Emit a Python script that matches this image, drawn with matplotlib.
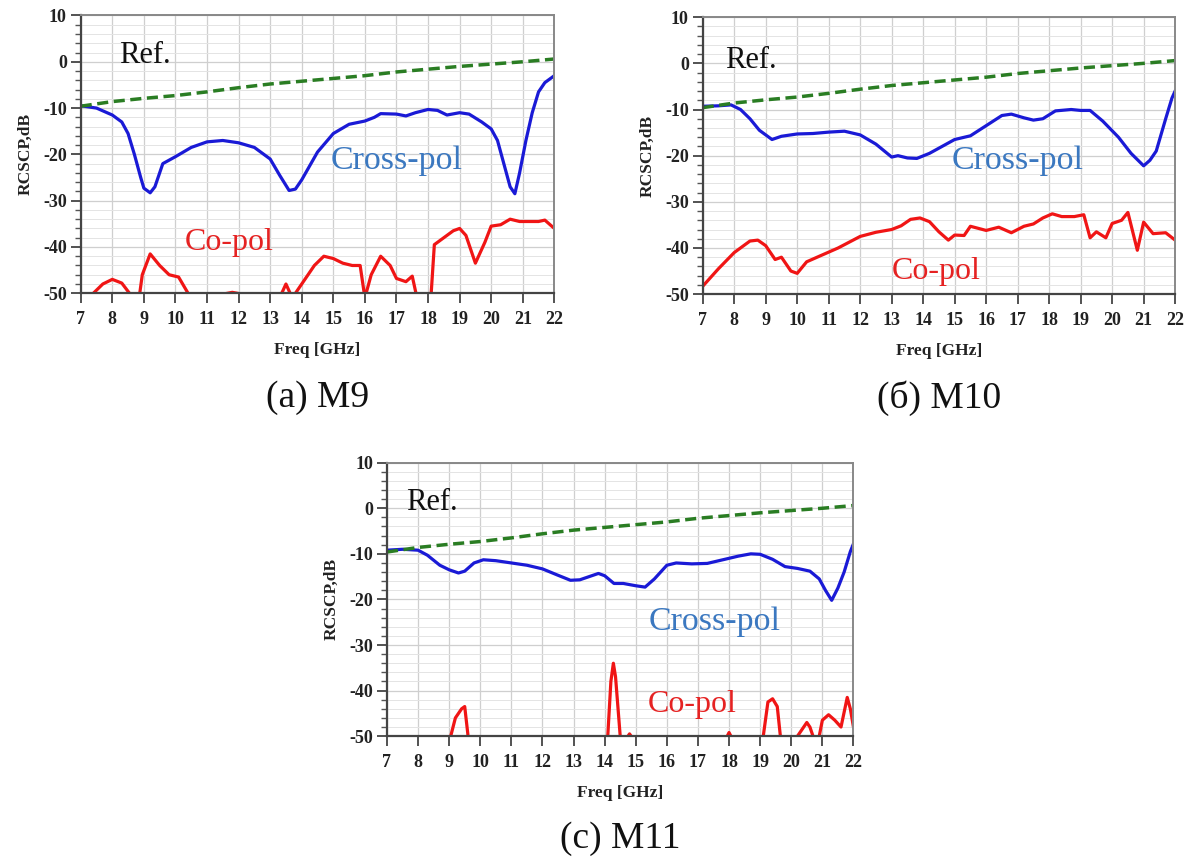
import numpy as np
import matplotlib
matplotlib.use("Agg")
import matplotlib.pyplot as plt

plt.rcParams['font.family'] = ['Liberation Serif', 'DejaVu Serif']
plt.rcParams['axes.unicode_minus'] = False

# reference (metal plate) curve, same in all three panels
ref_f = [7, 8, 9, 10, 11, 12, 13, 14, 15, 16, 17, 18, 19, 20, 21, 22]
ref_v = [-9.6, -8.6, -7.9, -7.3, -6.5, -5.6, -4.8, -4.2, -3.6, -3.0, -2.2, -1.6, -1.0, -0.5, 0.0, 0.6]

# (a) M9
m9_x_f = [7.0, 7.5, 8.0, 8.3, 8.5, 8.7, 8.9, 9.0, 9.2, 9.35, 9.6, 10.0, 10.5, 11.0, 11.5, 12.0,
          12.5, 13.0, 13.3, 13.6, 13.8, 14.0, 14.5, 15.0, 15.5, 16.0, 16.3, 16.5, 17.0, 17.3,
          17.6, 18.0, 18.3, 18.6, 19.0, 19.3, 19.7, 20.0, 20.2, 20.4, 20.6, 20.75, 20.9, 21.1,
          21.3, 21.5, 21.7, 22.0]
m9_x_v = [-9.5, -10.0, -11.5, -13.0, -15.5, -20.0, -25.0, -27.3, -28.3, -27.0, -22.0, -20.5,
          -18.5, -17.3, -17.0, -17.5, -18.5, -21.0, -24.5, -27.8, -27.5, -25.5, -19.5, -15.5,
          -13.5, -12.8, -12.0, -11.2, -11.3, -11.7, -11.0, -10.3, -10.5, -11.5, -11.0, -11.3,
          -13.0, -14.5, -17.0, -22.0, -27.0, -28.5, -24.0, -17.0, -11.0, -6.5, -4.5, -3.0]
m9_c_f = [7.0, 7.4, 7.7, 8.0, 8.3, 8.6, 8.85, 8.95, 9.2, 9.5, 9.8, 10.1, 10.4, 10.7, 11.5,
          11.8, 12.2, 12.5, 13.3, 13.5, 13.7, 14.0, 14.4, 14.7, 15.0, 15.3, 15.6, 15.85, 16.0,
          16.2, 16.5, 16.8, 17.0, 17.3, 17.5, 17.65, 17.9, 18.1, 18.2, 18.5, 18.8, 19.0, 19.2,
          19.5, 19.8, 20.0, 20.3, 20.6, 20.9, 21.2, 21.5, 21.7, 22.0]
m9_c_v = [-52, -50, -48, -47, -47.8, -50.5, -51, -46, -41.5, -44, -46, -46.5, -50, -51, -50.2,
          -49.8, -50.3, -51, -51, -48, -51, -48, -44, -42, -42.5, -43.5, -44, -44, -51,
          -46, -42, -44, -46.8, -47.5, -46.3, -51, -55, -50, -39.5, -38, -36.5, -36, -37.5,
          -43.5, -39, -35.5, -35.2, -34, -34.5, -34.5, -34.5, -34.2, -36]

# (б) M10
m10_x_f = [7.0, 7.5, 7.9, 8.2, 8.5, 8.8, 9.2, 9.5, 10.0, 10.5, 11.0, 11.5, 12.0, 12.5, 13.0,
           13.2, 13.5, 13.8, 14.2, 14.6, 15.0, 15.5, 16.0, 16.5, 16.8, 17.2, 17.5, 17.8, 18.2,
           18.7, 19.0, 19.3, 19.7, 20.2, 20.6, 21.0, 21.2, 21.4, 21.7, 21.9, 22.0]
m10_x_v = [-9.3, -9.2, -9.0, -10.0, -12.0, -14.5, -16.5, -15.8, -15.3, -15.2, -14.9, -14.7,
           -15.5, -17.5, -20.3, -20.0, -20.5, -20.6, -19.5, -18.0, -16.5, -15.7, -13.5, -11.3,
           -11.0, -11.8, -12.3, -12.0, -10.3, -10.0, -10.2, -10.2, -12.5, -16.0, -19.5, -22.2,
           -21.0, -19.0, -12.0, -7.5, -6.0]
m10_c_f = [7.0, 7.5, 8.0, 8.5, 8.75, 9.0, 9.3, 9.5, 9.8, 10.0, 10.3, 10.8, 11.3, 12.0, 12.5,
           13.0, 13.3, 13.6, 13.9, 14.2, 14.5, 14.8, 15.0, 15.3, 15.5, 16.0, 16.4, 16.8, 17.2,
           17.5, 17.8, 18.1, 18.4, 18.8, 19.1, 19.3, 19.5, 19.8, 20.0, 20.3, 20.5, 20.8, 21.0,
           21.3, 21.7, 22.0]
m10_c_v = [-48.3, -44.5, -41.0, -38.5, -38.3, -39.5, -42.5, -42.0, -45.0, -45.5, -43.0, -41.5,
           -40.0, -37.5, -36.6, -36.0, -35.2, -33.8, -33.5, -34.3, -36.5, -38.3, -37.2, -37.3,
           -35.3, -36.2, -35.5, -36.7, -35.3, -34.8, -33.5, -32.6, -33.2, -33.2, -32.8, -37.8,
           -36.5, -37.8, -34.7, -34.0, -32.3, -40.5, -34.4, -36.9, -36.7, -38.3]

# (c) M11
m11_x_f = [7.0, 7.5, 8.0, 8.3, 8.7, 9.0, 9.3, 9.5, 9.8, 10.1, 10.5, 11.0, 11.5, 12.0, 12.5,
           12.9, 13.2, 13.5, 13.8, 14.0, 14.3, 14.6, 15.0, 15.3, 15.6, 16.0, 16.3, 16.8, 17.3,
           17.8, 18.3, 18.7, 19.0, 19.4, 19.8, 20.2, 20.6, 20.9, 21.1, 21.3, 21.5, 21.7, 21.9,
           22.0]
m11_x_v = [-9.2, -9.0, -9.2, -10.3, -12.5, -13.5, -14.2, -13.8, -12.0, -11.3, -11.5, -12.0,
           -12.5, -13.3, -14.7, -15.8, -15.7, -15.0, -14.3, -14.8, -16.5, -16.5, -17.0, -17.3,
           -15.5, -12.5, -12.0, -12.2, -12.1, -11.3, -10.5, -10.0, -10.1, -11.2, -12.8, -13.2,
           -13.8, -15.5, -18.0, -20.2, -17.5, -14.0, -9.5, -7.8]
m11_c_f = [7.0, 9.0, 9.05, 9.2, 9.4, 9.5, 9.6, 9.65, 14.05, 14.1, 14.2, 14.28, 14.35, 14.5,
           14.55, 14.72, 14.8, 14.88, 17.92, 18.0, 18.08, 19.0, 19.1, 19.25, 19.4, 19.55,
           19.65, 19.75, 20.1, 20.2, 20.5, 20.6, 20.7, 20.8, 20.9, 21.0, 21.2, 21.4, 21.6,
           21.8, 21.9, 22.0]
m11_c_v = [-55, -55, -50, -46, -44, -43.5, -49.5, -55, -55, -50, -38, -34, -37, -50,
           -55, -50.3, -49.5, -50.3, -50.3, -49.2, -50.3, -55, -50, -42.5, -41.8, -43.5,
           -50, -55, -55, -50, -47, -48, -50, -55, -50, -46.5, -45.3, -46.5, -48,
           -41.5, -44, -48]

panels = [
    # axes rect (figure fraction), cross-pol, co-pol, caption, text anchors
    ([0.068, 0.659, 0.399, 0.323], m9_x_f, m9_x_v, m9_c_f, m9_c_v, '(a) M9',
     (8.2, 1.4), (14.9, -21.3), (10.3, -39.0)),
    ([0.592, 0.658, 0.398, 0.322], m10_x_f, m10_x_v, m10_c_f, m10_c_v, '(б) M10',
     (7.7, 0.6), (14.9, -21.2), (13.0, -45.0)),
    ([0.326, 0.144, 0.393, 0.318], m11_x_f, m11_x_v, m11_c_f, m11_c_v, '(c) M11',
     (7.6, 1.3), (15.4, -24.8), (15.4, -43.0)),
]

fig = plt.figure(figsize=(11.87, 8.60), dpi=100)

for rect, xf, xv, cf, cv, cap, ref_pos, cross_pos, co_pos in panels:
    ax = fig.add_axes(rect)
    ax.set_xlim(7, 22)
    ax.set_ylim(-50, 10)
    ax.set_xticks(np.arange(7, 23, 1))
    ax.set_yticks(np.arange(-50, 11, 10))
    ax.set_yticks(np.arange(-50, 11, 2), minor=True)
    ax.grid(which='major', color='#cfcfcf', lw=0.9)
    ax.grid(which='minor', axis='y', color='#e4e4e4', lw=0.7)
    ax.set_axisbelow(True)

    ax.plot(cf, cv, color='#f01515', lw=2.3)
    ax.plot(xf, xv, color='#1a1ad6', lw=2.3)
    ax.plot(ref_f, ref_v, color='#2a7d23', lw=2.5, dashes=(3.2, 1.6))

    ax.text(ref_pos[0], ref_pos[1], 'Ref.', fontsize=22, color='#111111', va='center')
    ax.text(cross_pos[0], cross_pos[1], 'Cross-pol', fontsize=24.5, color='#3b78c0', va='center')
    ax.text(co_pos[0], co_pos[1], 'Co-pol', fontsize=23, color='#e52222', va='center')

    for s in ['left', 'bottom']:
        ax.spines[s].set_color('#444444')
        ax.spines[s].set_linewidth(1.6)
    for s in ['top', 'right']:
        ax.spines[s].set_color('#888888')
        ax.spines[s].set_linewidth(1.4)
    ax.tick_params(which='major', length=7, width=1.3, color='#444444', labelsize=13)
    ax.tick_params(axis='x', which='major', pad=6)
    ax.tick_params(axis='y', which='major', pad=3)
    ax.tick_params(which='minor', axis='y', length=4, width=1.0, color='#555555')
    for lab in ax.get_xticklabels() + ax.get_yticklabels():
        lab.set_fontweight('bold')
        lab.set_color('#222222')
    ax.set_xlabel('Freq [GHz]', fontsize=12.5, fontweight='bold', color='#222222', labelpad=10)
    ax.set_ylabel('RCSCP,dB', fontsize=12.5, fontweight='bold', color='#222222', labelpad=7)
    ax.text(0.5, -0.375, cap, transform=ax.transAxes, ha='center', va='center',
            fontsize=27, color='#111111')

fig.savefig('out.png', dpi=100)
